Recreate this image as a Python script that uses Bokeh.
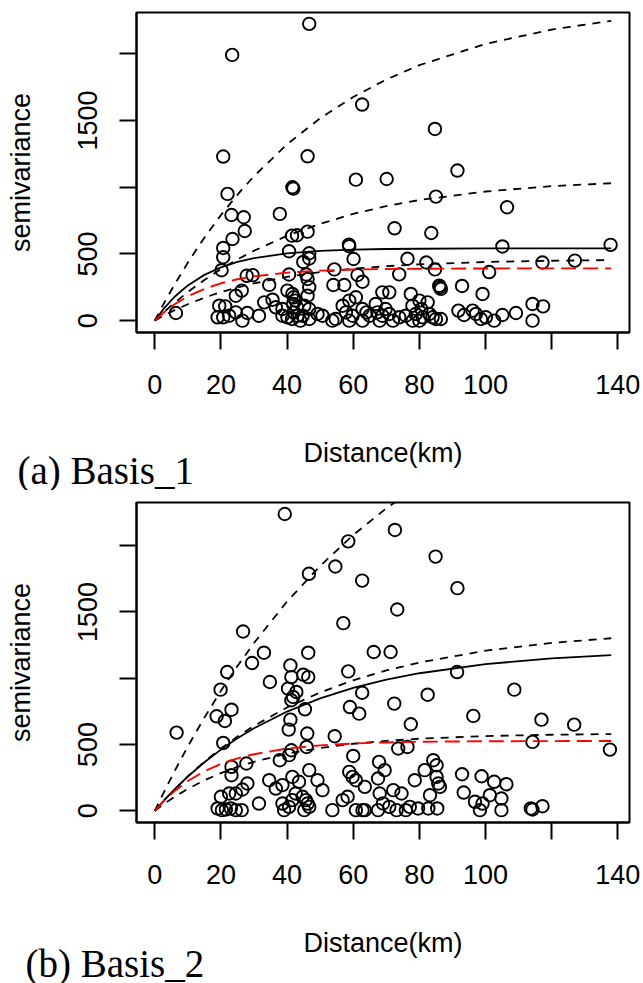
from bokeh.plotting import figure
from bokeh.models import Range1d, FixedTicker, Title, AllLabels
from bokeh.layouts import column
from bokeh.embed import file_html
from bokeh.resources import INLINE

# ---------------- data ----------------
x_ticks = [0, 20, 40, 60, 80, 100, 120, 140]
y_ticks = [0, 500, 1000, 1500, 2000]

curve_dist = [0, 3, 6, 10, 15, 20, 25, 30, 40, 50, 60, 70, 80, 100, 120, 138]

# panel (a) Basis_1 model curves
p1_upper = [0, 140, 271, 435, 622, 791, 944, 1083, 1322, 1517, 1677, 1808, 1915, 2075, 2182, 2248]
p1_middle = [0, 69, 134, 214, 305, 386, 459, 524, 636, 726, 800, 858, 904, 968, 1008, 1030]
p1_fit = [0, 98, 179, 264, 343, 399, 440, 469, 504, 523, 532, 537, 539, 541, 542, 542]
p1_lower = [0, 41, 79, 123, 172, 214, 249, 280, 328, 364, 389, 408, 422, 440, 449, 454]
p1_red = [0, 67, 123, 182, 238, 280, 310, 332, 360, 375, 383, 387, 389, 391, 392, 392]

# panel (b) Basis_2 model curves
p2_upper = [0, 153, 300, 486, 703, 905, 1092, 1266, 1579, 1848, 2081, 2282, 2455, 2734, 2942, 3084]
p2_middle = [0, 84, 162, 260, 370, 470, 560, 641, 780, 893, 985, 1059, 1119, 1208, 1267, 1302]
p2_fit = [0, 84, 162, 259, 366, 462, 547, 623, 749, 849, 928, 990, 1038, 1107, 1150, 1174]
p2_lower = [0, 56, 106, 166, 230, 285, 331, 370, 431, 474, 506, 528, 544, 564, 574, 579]
p2_red = [0, 81, 149, 225, 298, 354, 396, 427, 470, 494, 508, 516, 521, 525, 526, 527]

# panel (a) variogram cloud
p1_dist = [
    46.7, 23.4, 62.7, 84.7, 20.7, 46.2, 91.5, 60.8, 70.1, 41.6, 41.9, 22.0, 85.0, 106.5, 37.8, 23.2,
    26.9, 72.5, 27.2, 83.6, 46.2, 41.5, 43.0, 23.5,
    20.7, 20.7, 40.6, 46.7, 46.7, 58.7, 58.8, 60.1, 20.2, 27.8, 29.6, 34.6, 40.6, 44.9, 45.8, 46.2,
    105.1, 137.8, 76.4, 82.1, 84.7, 117.2, 127.0, 73.9, 101.1, 61.3, 62.8, 54.3, 54.0, 57.3, 86.0,
    86.2, 86.5, 92.9,
    6.4, 19.5, 21.3, 19.0, 20.7, 22.5, 24.5, 26.3, 24.5, 26.5,
    28.0, 31.5, 33.1, 35.6, 36.6, 38.6, 38.6, 40.1, 40.1, 41.6,
    42.0, 42.5, 41.8, 43.0, 42.0, 43.2, 41.5, 44.0, 45.2, 46.7,
    44.7, 46.7, 46.7, 46.2, 49.2, 50.7, 53.7, 54.7, 56.8, 58.8,
    60.8, 57.8, 59.8, 58.8, 62.8, 62.8, 64.0, 65.0, 66.8, 68.8,
    70.9, 67.3, 68.8, 69.8, 70.9, 68.0, 72.0, 73.9, 77.4, 77.9,
    80.0, 82.5, 75.9, 78.9, 81.0, 78.0, 80.0, 83.0, 85.0, 86.5,
    84.0, 99.1, 91.8, 93.5, 96.1, 97.1, 98.6, 100.1, 102.6, 105.1,
    109.2, 114.2, 117.4, 114.2, 80.6,
]
p1_semi = [
    2225, 1992, 1620, 1437, 1230, 1232, 1125, 1057, 1062, 1000, 990, 950, 930, 850, 800, 792,
    775, 692, 672, 657, 667, 637, 640, 612,
    545, 475, 520, 505, 466, 570, 558, 462, 378, 336, 341, 268, 346, 440, 346, 312,
    556, 568, 464, 436, 384, 436, 450, 347, 364, 342, 292, 384, 267, 267, 262,
    250, 238, 260,
    57, 112, 107, 25, 25, 37, 187, 225, 62, 0,
    57, 37, 137, 157, 100, 87, 37, 25, 225, 200,
    175, 150, 125, 100, 62, 37, 12, 0, 112, 87,
    37, 12, 250, 187, 50, 37, 0, 12, 112, 150,
    175, 62, 37, 0, 0, 87, 62, 37, 125, 212,
    212, 62, 37, 87, 50, 0, 0, 25, 200, 112,
    150, 137, 37, 50, 25, 0, 0, 50, 12, 12,
    25, 200, 75, 42, 75, 50, 12, 25, 0, 42,
    57, 125, 107, 0, 87,
]

# panel (b) variogram cloud
p2_dist = [
    39.3, 58.5, 72.6, 84.9, 54.6, 46.6, 62.7, 91.5, 73.3, 57.0,
    26.7, 33.0, 46.4, 66.2, 71.3, 29.4, 41.0, 21.9, 58.5, 91.4,
    44.9, 46.4, 41.3, 34.8, 19.9, 40.3, 108.7, 42.8, 62.7, 41.8,
    82.5, 41.3, 72.4, 23.2, 45.4, 59.0, 18.7, 21.2, 61.8, 96.3,
    41.0, 116.9, 77.4, 126.8, 40.5, 6.6, 46.1, 54.4, 20.7, 114.2,
    45.9, 73.6, 76.4, 137.6, 41.3, 40.6, 60.0, 37.8, 23.2, 23.2,
    27.7, 46.7,
    31.5, 34.6, 36.6, 38.6, 20.0, 22.5, 24.5, 26.5, 28.0, 19.0,
    20.3, 21.5, 23.0, 24.5, 26.3, 38.6, 39.1, 40.6, 41.6, 41.6,
    42.6, 43.6, 44.7, 45.7, 46.2, 46.7, 45.2, 49.2, 50.7, 53.7,
    56.8, 58.3, 59.8, 60.8, 58.8, 63.5, 60.8, 63.5, 67.5, 69.5,
    67.8, 68.0, 69.0, 67.5, 72.1, 73.1, 74.6, 77.1, 78.6, 79.6,
    81.6, 82.7, 83.2, 84.2, 85.2, 85.2, 85.7, 86.2, 85.4, 92.9,
    93.4, 98.8, 96.8, 98.3, 102.6, 101.3, 104.8, 104.8, 106.3, 114.2,
    117.2, 113.7, 75.9, 99.1, 62.8, 70.9,
]
p2_semi = [
    2239, 2033, 2119, 1918, 1843, 1788, 1737, 1680, 1519, 1416,
    1353, 1193, 1193, 1198, 1198, 1115, 1097, 1047, 1052, 1047,
    1027, 1009, 1009, 972, 914, 922, 914, 897, 891, 859,
    876, 834, 809, 763, 766, 783, 713, 678, 733, 716,
    688, 688, 653, 650, 613, 590, 583, 563, 512, 520,
    482, 470, 482, 462, 457, 420, 414, 382, 332, 269,
    357, 307,
    55, 231, 168, 194, 106, 131, 131, 161, 206, 18,
    5, 10, 18, 5, 5, 55, 5, 30, 81, 256,
    131, 219, 106, 81, 55, 30, 5, 231, 156, 5,
    81, 106, 256, 231, 294, 181, 5, 5, 244, 307,
    369, 131, 56, 5, 156, 5, 131, 30, 231, 18,
    307, 18, 118, 382, 344, 256, 206, 181, 18, 276,
    138, 261, 68, 5, 219, 118, 93, 5, 201, 10,
    35, 18, 5, 55, 5, 30,
]

SANS = "Liberation Sans"
SERIF = "Liberation Serif"


def make_panel(dist, semi, curves, y_lo, y_hi, height, bottom_border, tag, tag_offset, tag_standoff):
    p = figure(width=643, height=height,
               x_range=Range1d(-5.52, 143.52), y_range=Range1d(y_lo, y_hi),
               output_backend="svg", toolbar_location=None,
               min_border_left=136, min_border_right=14,
               min_border_top=12, min_border_bottom=bottom_border)
    p.background_fill_color = "white"
    p.border_fill_color = "white"
    p.outline_line_color = "black"
    p.outline_line_width = 2
    p.grid.visible = False

    p.scatter(dist, semi, marker="circle", size=12.5, fill_color=None,
              line_color="black", line_width=1.9)

    upper, middle, fit, lower, red = curves
    for ys in (upper, middle, lower):
        p.line(curve_dist, ys, line_color="black", line_width=1.8, line_dash="8 7")
    p.line(curve_dist, fit, line_color="black", line_width=1.8)
    p.line(curve_dist, red, line_color="red", line_width=1.9, line_dash="15 7")

    xa = p.xaxis[0]
    xa.ticker = FixedTicker(ticks=x_ticks)
    xa.major_label_overrides = {120: ""}
    xa.major_label_policy = AllLabels()
    xa.axis_label = "Distance(km)"
    xa.axis_label_standoff = 41
    xa.major_label_standoff = 25

    ya = p.yaxis[0]
    ya.ticker = FixedTicker(ticks=y_ticks)
    ya.major_label_overrides = {1000: "", 2000: ""}
    ya.major_label_policy = AllLabels()
    ya.major_label_orientation = "vertical"
    ya.axis_label = "semivariance"
    ya.axis_label_standoff = 40
    ya.major_label_standoff = 22

    for ax in (xa, ya):
        ax.minor_tick_line_color = None
        ax.major_tick_in = 0
        ax.major_tick_out = 17
        ax.major_tick_line_width = 2
        ax.major_tick_line_color = "black"
        ax.axis_line_color = "black"
        ax.axis_line_width = 2
        ax.major_label_text_font = SANS
        ax.major_label_text_font_size = "27px"
        ax.major_label_text_color = "black"
        ax.axis_label_text_font = SANS
        ax.axis_label_text_font_size = "27px"
        ax.axis_label_text_font_style = "normal"
        ax.axis_label_text_color = "black"

    p.add_layout(Title(text=tag, align="left", vertical_align="top",
                       offset=tag_offset, standoff=tag_standoff,
                       text_font=SERIF, text_font_size="39px",
                       text_font_style="normal", text_color="black"), "below")
    return p


p1 = make_panel(p1_dist, p1_semi, (p1_upper, p1_middle, p1_fit, p1_lower, p1_red),
                -89, 2310, 490, 158, "(a) Basis_1", -119, -44)
p2 = make_panel(p2_dist, p2_semi, (p2_upper, p2_middle, p2_fit, p2_lower, p2_red),
                -88, 2326, 493, 161, "(b) Basis_2", -111, -38)

layout = column(p1, p2)
open("out.html", "w").write(file_html(layout, INLINE))
